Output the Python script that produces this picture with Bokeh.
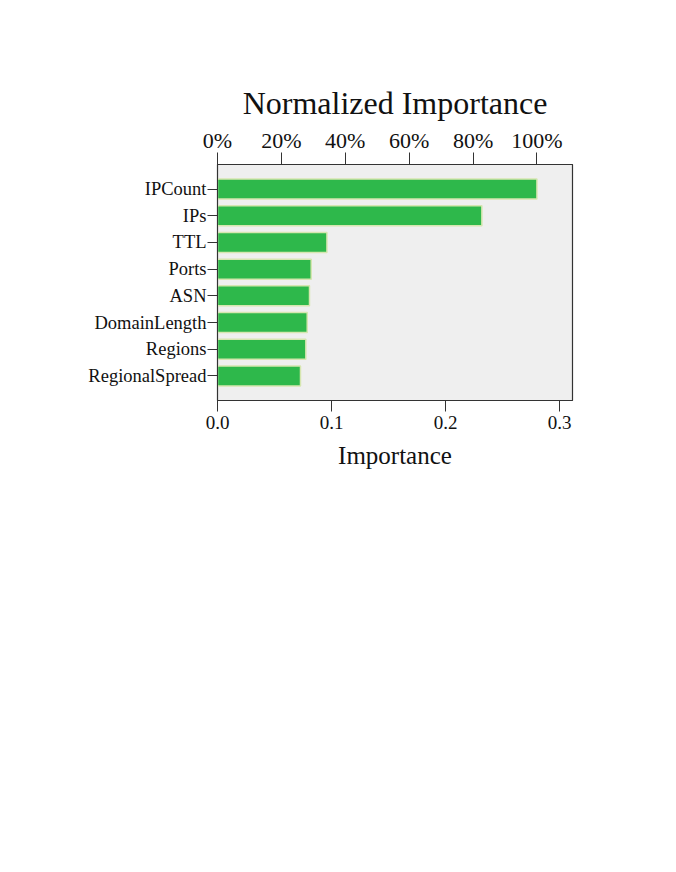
from bokeh.plotting import figure
from bokeh.models import FactorRange, Range1d, LinearAxis, FixedTicker, NumeralTickFormatter, CustomJSTickFormatter
from bokeh.embed import file_html
from bokeh.resources import INLINE

features = ["IPCount", "IPs", "TTL", "Ports", "ASN", "DomainLength", "Regions", "RegionalSpread"]
importance = [0.2802, 0.2319, 0.0960, 0.0822, 0.0807, 0.0787, 0.0775, 0.0728]
x_ticks = [0.0, 0.1, 0.2, 0.3]
pct_ticks = [0, 20, 40, 60, 80, 100]

FONT = "Liberation Serif"
TXT = "#111111"
X_END = 0.3114
W, H = 668, 856

factors = list(reversed(features))
p = figure(width=W, height=H, output_backend="svg", toolbar_location=None,
           y_range=FactorRange(*factors, range_padding=0.42, range_padding_units="absolute"),
           x_range=Range1d(0, X_END),
           x_axis_location="below",
           min_border_left=217, min_border_top=164, min_border_right=W - 572,
           min_border_bottom=H - 400)

p.hbar(y=features, right=importance, left=0, height=0.75,
       fill_color="#2EB84B", line_color="#D6E6B0", line_width=1.5)

p.background_fill_color = "#EFEFEF"
p.border_fill_color = "white"
p.outline_line_color = "#333333"
p.outline_line_width = 1.2
p.xgrid.visible = False
p.ygrid.visible = False

# bottom axis
xa = p.xaxis[0]
xa.ticker = FixedTicker(ticks=x_ticks)
xa.formatter = NumeralTickFormatter(format="0.0")
xa.axis_label = "Importance"
xa.axis_label_text_font = FONT
xa.axis_label_text_font_style = "normal"
xa.axis_label_text_font_size = "25px"
xa.axis_label_text_color = TXT
xa.axis_label_standoff = 10
xa.major_label_text_font = FONT
xa.major_label_text_font_size = "19px"
xa.major_label_text_color = TXT
xa.major_label_standoff = 4
xa.major_tick_out = 11
xa.major_tick_in = 0
xa.minor_tick_line_color = None
xa.axis_line_color = "#333333"
xa.major_tick_line_color = "#333333"

# left axis
ya = p.yaxis[0]
ya.major_label_text_font = FONT
ya.major_label_text_font_size = "18.5px"
ya.major_label_text_color = TXT
ya.major_label_standoff = 1
ya.major_tick_out = 10
ya.major_tick_in = 0
ya.axis_line_color = "#333333"
ya.major_tick_line_color = "#333333"

# top axis: normalized importance (%)
pct_end = X_END / max(importance) * 100
p.extra_x_ranges = {"pct": Range1d(0, pct_end)}
ta = LinearAxis(x_range_name="pct", ticker=FixedTicker(ticks=pct_ticks),
                formatter=CustomJSTickFormatter(code="return tick.toFixed(0) + '%';"))
ta.axis_label = "Normalized Importance"
ta.axis_label_text_font = FONT
ta.axis_label_text_font_style = "normal"
ta.axis_label_text_font_size = "32px"
ta.axis_label_text_color = TXT
ta.axis_label_standoff = 4
ta.major_label_text_font = FONT
ta.major_label_text_font_size = "22px"
ta.major_label_text_color = TXT
ta.major_label_standoff = 0
ta.major_tick_out = 12
ta.major_tick_in = 0
ta.minor_tick_line_color = None
ta.axis_line_color = "#333333"
ta.major_tick_line_color = "#333333"
p.add_layout(ta, "above")

open("out.html", "w").write(file_html(p, INLINE))
